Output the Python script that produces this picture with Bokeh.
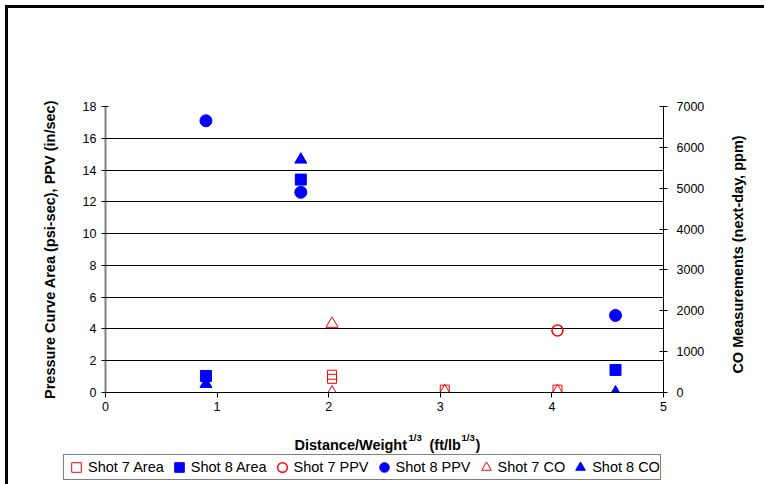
import math
from bokeh.plotting import figure
from bokeh.layouts import column, row
from bokeh.models import (Range1d, LinearAxis, SingleIntervalTicker, Legend, LegendItem, Label)
from bokeh.embed import file_html
from bokeh.resources import INLINE

# ---- data ----
shot7_area_x = [2.03, 2.03, 3.04, 4.05]
shot7_area_y = [1.12, 0.86, 0.18, 0.18]
shot8_area_x = [0.90, 1.75, 4.57]
shot8_area_y = [1.04, 13.4, 1.42]
shot7_ppv_x = [4.05]
shot7_ppv_y = [3.9]
shot8_ppv_x = [0.90, 1.75, 4.57]
shot8_ppv_y = [17.1, 12.6, 4.85]
shot7_co_x = [2.03, 2.03, 3.04, 4.05]
shot7_co_y = [1680, 0, 30, 30]
shot8_co_x = [0.90, 1.75, 4.57]
shot8_co_y = [210, 5700, 0]

series_labels = ["Shot 7 Area", "Shot 8 Area", "Shot 7 PPV", "Shot 8 PPV", "Shot 7 CO", "Shot 8 CO"]

x_ticks_interval = 1
left_ticks_interval = 2
right_ticks_interval = 1000

FONT = "Liberation Sans"
RED = "#FF0000"
BLUE = "#0000FF"
TITLE_SIZE = "14.5px"

styles = [
    dict(marker="square", size=9, fill_color=None, line_color=RED, line_width=1),
    dict(marker="square", size=11, fill_color=BLUE, line_color=BLUE),
    dict(marker="circle", size=11, fill_color=None, line_color=RED, line_width=1.5),
    dict(marker="circle", size=12, fill_color=BLUE, line_color=BLUE),
    dict(marker="triangle", size=12, fill_color=None, line_color=RED, line_width=1),
    dict(marker="triangle", size=12, fill_color=BLUE, line_color=BLUE),
]

OX, OY = 8, 8          # where the content starts in the picture (after border)
W_ALL = 756
PW = 702               # main plot width (up to the right tick labels)
RW = W_ALL - PW        # strip holding the right-axis title
TOP_H = 404
BOT_H = 71
FL, FT, FW, FH = 105, 106, 558, 286   # frame position in picture pixels

p = figure(width=PW, height=TOP_H, output_backend="svg", toolbar_location=None,
           x_range=Range1d(0, 5), y_range=Range1d(0, 18),
           min_border_left=FL - OX, min_border_right=PW - (FL - OX) - FW,
           min_border_top=FT - OY, min_border_bottom=TOP_H - (FT - OY) - FH,
           frame_width=FW, frame_height=FH)
p.frame_align = False
p.extra_y_ranges = {"co": Range1d(0, 7000)}
p.outline_line_color = None
p.background_fill_color = "white"
p.border_fill_color = "white"

# axes
p.xaxis.ticker = SingleIntervalTicker(interval=x_ticks_interval)
p.yaxis.ticker = SingleIntervalTicker(interval=left_ticks_interval)
for ax in (p.xaxis[0], p.yaxis[0]):
    ax.major_label_text_font = FONT
    ax.major_label_text_font_size = "12.5px"
    ax.major_label_text_color = "#000000"
    ax.minor_tick_line_color = None
    ax.axis_label_text_font = FONT
    ax.axis_label_text_font_size = TITLE_SIZE
    ax.axis_label_text_font_style = "bold"
    ax.axis_label_text_color = "#000000"

p.xaxis.axis_line_color = "#000000"
p.xaxis.major_tick_line_color = "#000000"
p.xaxis.major_tick_out = 5
p.xaxis.major_tick_in = 0
p.xaxis.major_label_standoff = 4
p.xaxis.axis_label = None

p.yaxis.axis_label = "Pressure Curve Area (psi-sec), PPV (in/sec)"
p.yaxis.axis_line_color = "#808080"
p.yaxis.axis_line_width = 2
p.yaxis.major_tick_line_color = "#000000"
p.yaxis.major_tick_out = 4
p.yaxis.major_tick_in = 3
p.yaxis.major_label_standoff = 5
p.yaxis.axis_label_standoff = 22

right = LinearAxis(y_range_name="co", ticker=SingleIntervalTicker(interval=right_ticks_interval))
right.major_label_text_font = FONT
right.major_label_text_font_size = "12.5px"
right.major_label_text_color = "#000000"
right.minor_tick_line_color = None
right.axis_line_color = "#000000"
right.major_tick_line_color = "#000000"
right.major_tick_out = 4
right.major_tick_in = 4
right.major_label_standoff = 9
p.add_layout(right, "right")

# grid
p.xgrid.visible = False
p.ygrid.grid_line_color = "#000000"
p.ygrid.grid_line_width = 1

# series
xs = [shot7_area_x, shot8_area_x, shot7_ppv_x, shot8_ppv_x, shot7_co_x, shot8_co_x]
ys = [shot7_area_y, shot8_area_y, shot7_ppv_y, shot8_ppv_y, shot7_co_y, shot8_co_y]
for i in range(6):
    kw = dict(styles[i])
    if i >= 4:
        kw["y_range_name"] = "co"
    p.scatter(xs[i], ys[i], **kw)

def strip(w, h):
    f = figure(width=w, height=h, output_backend="svg", toolbar_location=None,
               x_range=Range1d(0, w), y_range=Range1d(0, h),
               min_border=0, min_border_left=0, min_border_right=0,
               min_border_top=0, min_border_bottom=0)
    f.frame_align = False
    f.axis.visible = False
    f.grid.visible = False
    f.outline_line_color = None
    f.background_fill_color = "white"
    f.border_fill_color = "white"
    return f

# ---- right strip: right-axis title (reads bottom to top) ----
r = strip(RW, TOP_H)
r.add_layout(Label(x=737 - (OX + PW), y=OY + TOP_H - 254, text="CO Measurements (next-day, ppm)",
                   angle=math.pi / 2, text_align="center", text_baseline="middle",
                   text_font=FONT, text_font_size=TITLE_SIZE, text_font_style="bold",
                   text_color="#000000"))

# ---- bottom strip: x-axis title and legend ----
q = strip(W_ALL, BOT_H)

def lab(x, y, text, size):
    return Label(x=x, y=y, text=text, text_font=FONT, text_font_size=size,
                 text_font_style="bold", text_color="#000000", text_baseline="alphabetic")

# picture coords -> strip coords
sx = lambda v: v - OX
sy = lambda v: OY + TOP_H + BOT_H - v
q.add_layout(lab(sx(294), sy(443), "Distance/Weight", TITLE_SIZE))
q.add_layout(lab(sx(408), sy(436), "1/3", "9.5px"))
q.add_layout(lab(sx(429), sy(443), "(ft/lb", TITLE_SIZE))
q.add_layout(lab(sx(461), sy(436), "1/3", "9.5px"))
q.add_layout(lab(sx(475), sy(443), ")", TITLE_SIZE))

nan = float("nan")
items = []
for i in range(6):
    rr = q.scatter([nan], [nan], **styles[i])
    items.append(LegendItem(label=series_labels[i], renderers=[rr]))

legend = Legend(items=items, orientation="horizontal", location=(sx(63), sy(479)))
legend.label_text_font = FONT
legend.label_text_font_size = "14.5px"
legend.label_text_color = "#000000"
legend.glyph_width = 24
legend.glyph_height = 24
legend.label_height = 16
legend.label_standoff = 0
legend.spacing = 3
legend.padding = 0
legend.margin = 0
legend.border_line_color = "#000000"
legend.border_line_width = 1
legend.background_fill_color = "white"
q.add_layout(legend, "center")

layout = column(row(p, r, spacing=0), q, spacing=0)
layout.styles = {"margin-left": "5px", "margin-top": "5px",
                 "border-left": "3px solid black", "border-top": "3px solid black"}
open("out.html", "w").write(file_html(layout, INLINE))
